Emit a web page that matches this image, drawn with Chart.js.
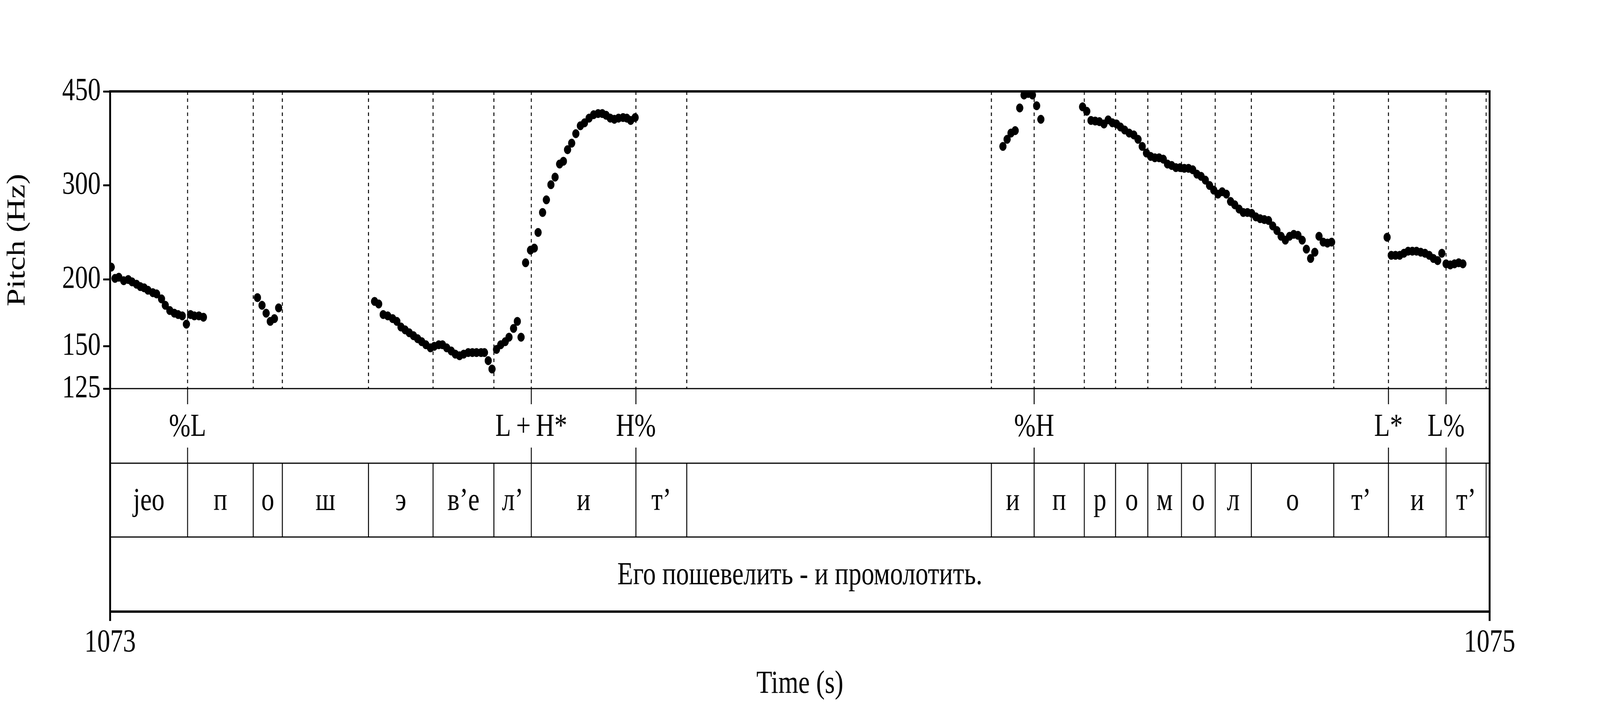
<!DOCTYPE html>
<html>
<head>
<meta charset="utf-8">
<script src="https://cdn.jsdelivr.net/npm/chart.js@4"></script>
<style>
  html, body { margin: 0; padding: 0; background: #fff; overflow: hidden; }
  canvas { display: block; }
</style>
</head>
<body>
<canvas id="pitch" width="5100" height="1800" style="width:100vw;height:100vh"></canvas>
<script>
// Time axis
const timeStart = 1073;
const timeEnd = 1075;
const timeTickLabels = ["1073", "1075"];

// Pitch track: time offsets (s from 1073) and values (Hz)
const pitchTimes = [
  0.0016, 0.0071, 0.0126, 0.0197, 0.0263, 0.0318, 0.0383, 0.0438, 0.0493, 0.0548, 0.0619, 0.0674,
  0.0745, 0.0800, 0.0865, 0.0931, 0.0986, 0.1046, 0.1106, 0.1166, 0.1221, 0.1287, 0.1353,
  0.2136, 0.2202, 0.2262, 0.2322, 0.2382, 0.2443,
  0.3834, 0.3894, 0.3959, 0.4025, 0.4096, 0.4157, 0.4217, 0.4277, 0.4337, 0.4398, 0.4458, 0.4518,
  0.4578, 0.4644, 0.4699, 0.4764, 0.4819, 0.4880, 0.4946, 0.5005, 0.5066, 0.5126, 0.5192, 0.5252,
  0.5312, 0.5378, 0.5427, 0.5482, 0.5537, 0.5602, 0.5663, 0.5728, 0.5783, 0.5849, 0.5904, 0.5958,
  0.6024, 0.6095, 0.6150, 0.6205, 0.6270, 0.6325, 0.6391, 0.6451, 0.6517, 0.6572, 0.6632, 0.6692,
  0.6752, 0.6818, 0.6878, 0.6944, 0.7010, 0.7075, 0.7136, 0.7191, 0.7251, 0.7311, 0.7371, 0.7437,
  0.7492, 0.7547, 0.7612,
  1.2944, 1.3005, 1.3061, 1.3122, 1.3188, 1.3250, 1.3311, 1.3372, 1.3433, 1.3494,
  1.4099, 1.4160, 1.4221, 1.4282, 1.4343, 1.4409, 1.4470, 1.4531, 1.4592, 1.4648, 1.4709, 1.4775,
  1.4842, 1.4903, 1.4964, 1.5025, 1.5086, 1.5147, 1.5208, 1.5269, 1.5330, 1.5391, 1.5452, 1.5513,
  1.5574, 1.5635, 1.5696, 1.5757, 1.5818, 1.5879, 1.5940, 1.6001, 1.6062, 1.6123, 1.6184, 1.6245,
  1.6306, 1.6368, 1.6429, 1.6490, 1.6551, 1.6612, 1.6673, 1.6734, 1.6795, 1.6856, 1.6917, 1.6978,
  1.7039, 1.7100, 1.7161, 1.7222, 1.7283, 1.7344, 1.7405, 1.7466, 1.7527, 1.7588, 1.7649, 1.7710,
  1.8514, 1.8575, 1.8636, 1.8697, 1.8758, 1.8819, 1.8880, 1.8941, 1.9002, 1.9064, 1.9125, 1.9186,
  1.9247, 1.9308, 1.9369, 1.9430, 1.9491, 1.9552, 1.9613
];
const pitchHz = [
  211, 201, 202, 199, 200, 198, 196, 194, 193, 191, 189, 188,
  184, 179, 175, 173, 172, 171, 165, 172, 171, 171, 170,
  185, 179, 173, 167, 169, 177,
  182, 180, 172, 171, 169, 167, 163, 161, 159, 157, 155, 153,
  151, 149, 150, 151, 151, 149, 147, 145, 144, 145, 146, 146,
  146, 146, 146, 141, 136, 148, 151, 153, 156, 162, 167, 156,
  215, 227, 229, 245, 267, 282, 301, 311, 329, 333, 350, 360,
  375, 388, 393, 401, 407, 409, 409, 406, 401, 399, 401, 402,
  401, 397, 402,
  355, 366, 376, 380, 419, 443, 446, 443, 423, 399,
  421, 413, 397, 396, 395, 391, 398, 393, 391, 386, 381, 376,
  373, 366, 355, 345, 340, 338, 338, 336, 329, 327, 324, 324,
  323, 323, 321, 315, 312, 307, 300, 294, 289, 292, 289, 280,
  276, 271, 267, 267, 266, 262, 260, 259, 258, 252, 247, 241,
  237, 241, 243, 242, 237, 228, 219, 225, 241, 235, 234, 235,
  240, 222, 222, 222, 224, 226, 226, 226, 225, 224, 222, 219,
  217, 224, 214, 213, 214, 215, 214
];
const pitchTicks = [125, 150, 200, 300, 450];

// Tone tier (points)
const toneTimes = [0.1123, 0.6106, 0.7623, 1.3397, 1.8534, 1.9369];
const toneLabels = ["%L", "L\u2009+\u2009H*", "H%", "%H", "L*", "L%"];

// Segment tier (interval boundaries and labels)
const segBounds = [0, 0.1123, 0.2075, 0.2497, 0.3746, 0.4682, 0.5564, 0.6106, 0.7623, 0.8360,
  1.2777, 1.3397, 1.4124, 1.4577, 1.5045, 1.5533, 1.6022, 1.6546, 1.7741, 1.8534, 1.9369, 1.9950];
const segLabels = ["jeo", "п", "о", "ш", "э", "в’е", "л’", "и", "т’", "",
  "и", "п", "р", "о", "м", "о", "л", "о", "т’", "и", "т’"];

// Sentence tier
const sentenceText = "Его пошевелить - и промолотить.";

const FONT = '"Liberation Serif", "Times New Roman", serif';
const FRAME = { left: 351, right: 4748, top: 234, pitchBottom: 995,
  toneBottom: 1186, segBottom: 1375, bottom: 1566 };

const tierPlugin = {
  id: 'tiers',
  beforeDatasetsDraw(chart) {
    const c = chart.ctx, xs = chart.scales.x;
    c.save();
    c.strokeStyle = '#000';
    c.lineWidth = 3;
    c.setLineDash([9, 9]);
    segBounds.slice(1).forEach(t => {
      const x = xs.getPixelForValue(timeStart + t);
      c.beginPath();
      c.moveTo(x, FRAME.top);
      c.lineTo(x, FRAME.pitchBottom);
      c.stroke();
    });
    c.restore();
  },
  afterDraw(chart) {
    const c = chart.ctx, xs = chart.scales.x;
    const px = t => xs.getPixelForValue(timeStart + t);
    c.save();
    c.strokeStyle = '#000';
    c.fillStyle = '#000';
    c.setLineDash([]);

    // tier separators
    c.lineWidth = 3;
    [FRAME.pitchBottom, FRAME.toneBottom, FRAME.segBottom].forEach(y => {
      c.beginPath(); c.moveTo(FRAME.left, y); c.lineTo(FRAME.right, y); c.stroke();
    });

    // tone points
    c.font = `82px ${FONT}`;
    c.textAlign = 'center';
    c.textBaseline = 'middle';
    toneTimes.forEach((t, i) => {
      const x = px(t);
      c.beginPath();
      c.moveTo(x, FRAME.pitchBottom); c.lineTo(x, FRAME.pitchBottom + 40);
      c.moveTo(x, FRAME.toneBottom - 40); c.lineTo(x, FRAME.toneBottom);
      c.stroke();
      c.fillText(toneLabels[i], x, (FRAME.pitchBottom + FRAME.toneBottom) / 2 + 4);
    });

    // segment intervals
    segBounds.forEach((t, i) => {
      const x = px(t);
      if (i > 0) {
        c.beginPath(); c.moveTo(x, FRAME.toneBottom); c.lineTo(x, FRAME.segBottom); c.stroke();
      }
      if (i < segLabels.length && segLabels[i]) {
        const xm = (x + px(segBounds[i + 1])) / 2;
        c.fillText(segLabels[i], xm, (FRAME.toneBottom + FRAME.segBottom) / 2 + 4);
      }
    });

    // sentence
    c.fillText(sentenceText, (FRAME.left + FRAME.right) / 2, (FRAME.segBottom + FRAME.bottom) / 2 + 4);

    // outer frame
    c.lineWidth = 6;
    c.strokeRect(FRAME.left, FRAME.top, FRAME.right - FRAME.left, FRAME.bottom - FRAME.top);

    // time axis
    [FRAME.left, FRAME.right].forEach((x, i) => {
      c.beginPath(); c.moveTo(x, FRAME.bottom); c.lineTo(x, FRAME.bottom + 24); c.stroke();
      c.fillText(timeTickLabels[i], x, 1646);
    });
    c.fillText("Time (s)", (FRAME.left + FRAME.right) / 2, 1752);

    // y title
    c.translate(56, (FRAME.top + FRAME.pitchBottom) / 2);
    c.rotate(-Math.PI / 2);
    c.fillText("Pitch (Hz)", 0, 0);
    c.restore();
  }
};

new Chart(document.getElementById('pitch').getContext('2d'), {
  type: 'scatter',
  data: {
    datasets: [{
      data: pitchTimes.map((t, i) => ({ x: timeStart + t, y: pitchHz[i] })),
      backgroundColor: '#000',
      borderColor: '#000',
      pointRadius: 11,
      pointHoverRadius: 11
    }]
  },
  options: {
    responsive: false,
    animation: false,
    devicePixelRatio: 1,
    layout: { padding: { top: 234, right: 5100 - 4748, bottom: 1800 - 995, left: 0 } },
    plugins: { legend: { display: false }, tooltip: { enabled: false } },
    scales: {
      x: { type: 'linear', min: timeStart, max: timeEnd, display: false },
      y: {
        type: 'logarithmic',
        min: 125,
        max: 450,
        afterBuildTicks: scale => { scale.ticks = pitchTicks.map(v => ({ value: v })); },
        afterFit: scale => { scale.width = 351; },
        border: { display: false },
        grid: { drawOnChartArea: false, drawTicks: true, tickLength: 22, tickWidth: 5, color: '#000' },
        ticks: {
          color: '#000',
          padding: 8,
          font: { family: FONT, size: 82 },
          callback: v => String(v)
        }
      }
    }
  },
  plugins: [tierPlugin]
});
</script>
</body>
</html>
